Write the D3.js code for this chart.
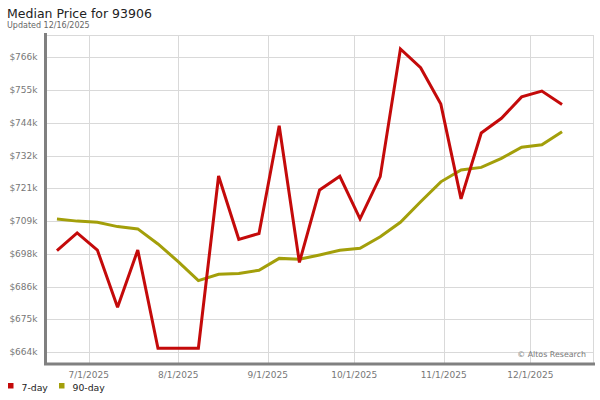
<!DOCTYPE html>
<html>
<head>
<meta charset="utf-8">
<script src="https://cdn.jsdelivr.net/npm/d3@7"></script>
<style>
  html, body { margin: 0; padding: 0; background: #fff; }
  svg { display: block; font-family: "DejaVu Sans", sans-serif; }
</style>
</head>
<body>
<svg id="chart" width="600" height="400"></svg>
<script>
const dates = ["2025-06-20","2025-06-27","2025-07-04","2025-07-11","2025-07-18","2025-07-25",
  "2025-08-01","2025-08-08","2025-08-15","2025-08-22","2025-08-29","2025-09-05","2025-09-12",
  "2025-09-19","2025-09-26","2025-10-03","2025-10-10","2025-10-17","2025-10-24","2025-10-31",
  "2025-11-07","2025-11-14","2025-11-21","2025-11-28","2025-12-05","2025-12-12"];
const sevenDay = [699100, 705200, 699300, 679500, 699300, 665300, 665300, 665300, 724900, 703000,
  705000, 742300, 695000, 720100, 724800, 710100, 724700, 768900, 762400, 749800,
  717000, 739800, 744900, 752300, 754300, 749700];
const ninetyDay = [710000, 709300, 708900, 707400, 706600, 701400, 695300, 688700, 690900, 691200,
  692300, 696400, 696100, 697600, 699200, 699900, 703900, 708900, 716000, 722900,
  727000, 727900, 731000, 734900, 735700, 740200];
const yTicks = [664000, 675333, 686667, 698000, 709333, 720667, 732000, 743333, 754667, 766000];
const yTickLabels = ["$664k","$675k","$686k","$698k","$709k","$721k","$732k","$744k","$755k","$766k"];
const xTicks = ["2025-07-01","2025-08-01","2025-09-01","2025-10-01","2025-11-01","2025-12-01"];
const xTickLabels = ["7/1/2025","8/1/2025","9/1/2025","10/1/2025","11/1/2025","12/1/2025"];
const seriesNames = ["7-day", "90-day"];
const colors = ["#c40a0a", "#a39f0a"];

const parse = d3.timeParse("%Y-%m-%d");
const svg = d3.select("#chart");

const plot = { left: 46, right: 593, top: 35, bottom: 363 };

const x = d3.scaleTime()
  .domain([parse("2025-07-01"), parse("2025-12-01")])
  .range([88.7, 530.3]);
const y = d3.scaleLinear()
  .domain([664000, 766000])
  .range([352, 57.3]);

// title
svg.append("text").attr("x", 7).attr("y", 18)
  .attr("font-size", 12.5).attr("fill", "#222").text("Median Price for 93906");
svg.append("text").attr("x", 7).attr("y", 27.5)
  .attr("font-size", 8).attr("fill", "#666").text("Updated 12/16/2025");

// grid
const grid = svg.append("g");
grid.selectAll("line.h").data(yTicks).enter().append("line")
  .attr("x1", plot.left).attr("x2", plot.right)
  .attr("y1", d => Math.round(y(d)) + 0.5).attr("y2", d => Math.round(y(d)) + 0.5)
  .attr("stroke", "#d9d9d9").attr("stroke-width", 1);
grid.selectAll("line.v").data(xTicks).enter().append("line")
  .attr("y1", plot.top).attr("y2", plot.bottom)
  .attr("x1", d => Math.round(x(parse(d))) + 0.5).attr("x2", d => Math.round(x(parse(d))) + 0.5)
  .attr("stroke", "#d9d9d9").attr("stroke-width", 1);
// top & right border
grid.append("line").attr("x1", plot.left).attr("x2", plot.right)
  .attr("y1", plot.top + 0.5).attr("y2", plot.top + 0.5).attr("stroke", "#d9d9d9");
grid.append("line").attr("x1", plot.right + 0.5).attr("x2", plot.right + 0.5)
  .attr("y1", plot.top).attr("y2", plot.bottom).attr("stroke", "#d9d9d9");

// y labels
svg.append("g").selectAll("text").data(yTicks).enter().append("text")
  .attr("x", 37.5).attr("y", d => y(d)).attr("dy", "0.35em")
  .attr("text-anchor", "end").attr("font-size", 9).attr("fill", "#777")
  .text((d, i) => yTickLabels[i]);

// x labels
svg.append("g").selectAll("text").data(xTicks).enter().append("text")
  .attr("x", d => x(parse(d))).attr("y", 377.5)
  .attr("text-anchor", "middle").attr("font-size", 9).attr("fill", "#777")
  .text((d, i) => xTickLabels[i]);

// watermark
svg.append("text").attr("x", 586).attr("y", 356.5).attr("text-anchor", "end")
  .attr("font-size", 7.9).attr("fill", "#777").text("\u00A9 Altos Research");

// lines
const line = d3.line().x((d, i) => x(parse(dates[i]))).y(d => y(d));
[ninetyDay, sevenDay].forEach((s, k) => {
  svg.append("path").datum(s).attr("d", line)
    .attr("fill", "none").attr("stroke", k === 0 ? colors[1] : colors[0])
    .attr("stroke-width", 3).attr("stroke-linejoin", "miter").attr("stroke-miterlimit", 3);
});

// axes
svg.append("line").attr("x1", 45.5).attr("x2", 45.5).attr("y1", 33).attr("y2", 365)
  .attr("stroke", "#808080").attr("stroke-width", 3);
svg.append("line").attr("x1", 44).attr("x2", 595).attr("y1", 364).attr("y2", 364)
  .attr("stroke", "#808080").attr("stroke-width", 3);

// legend
const legend = svg.append("g");
const legendX = [8, 59];
seriesNames.forEach((n, i) => {
  legend.append("rect").attr("x", legendX[i]).attr("y", 383).attr("width", 5.5).attr("height", 5.5)
    .attr("fill", colors[i]);
  legend.append("text").attr("x", legendX[i] + 13.5).attr("y", 390.5)
    .attr("font-size", 9.3).attr("fill", "#222").text(n);
});
</script>
</body>
</html>
